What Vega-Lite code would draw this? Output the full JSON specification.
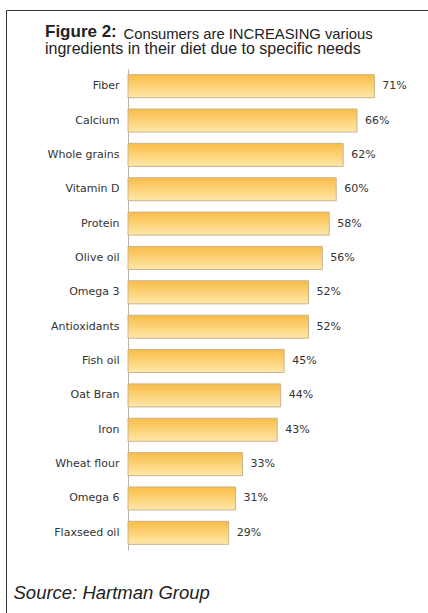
{
  "$schema": "https://vega.github.io/schema/vega-lite/v6.json",
  "width": 430,
  "height": 608,
  "padding": {"left": 6, "top": 10, "right": 0, "bottom": 0},
  "autosize": {"type": "pad"},
  "background": "white",
  "title": {
    "text": "Figure 2:",
    "subtitle": "ingredients in their diet due to specific needs",
    "anchor": "start",
    "frame": "group",
    "orient": "top",
    "offset": -48,
    "dx": 39,
    "baseline": "top",
    "font": "Liberation Sans",
    "fontSize": 17,
    "fontWeight": "bold",
    "color": "#222",
    "subtitleFont": "Liberation Sans",
    "subtitleFontSize": 16,
    "subtitleColor": "#222",
    "subtitlePadding": 0
  },
  "data": {
    "values": [
      {"item": "Fiber", "pct": 71},
      {"item": "Calcium", "pct": 66},
      {"item": "Whole grains", "pct": 62},
      {"item": "Vitamin D", "pct": 60},
      {"item": "Protein", "pct": 58},
      {"item": "Olive oil", "pct": 56},
      {"item": "Omega 3", "pct": 52},
      {"item": "Antioxidants", "pct": 52},
      {"item": "Fish oil", "pct": 45},
      {"item": "Oat Bran", "pct": 44},
      {"item": "Iron", "pct": 43},
      {"item": "Wheat flour", "pct": 33},
      {"item": "Omega 6", "pct": 31},
      {"item": "Flaxseed oil", "pct": 29}
    ]
  },
  "transform": [{"calculate": "datum.pct + '%'", "as": "label"}],
  "encoding": {
    "y": {
      "field": "item",
      "type": "nominal",
      "sort": null,
      "scale": {"range": [59, 540], "paddingInner": 0.33, "paddingOuter": 0.165},
      "axis": {
        "title": "Consumers are INCREASING various",
        "titleAngle": 0,
        "titleX": -5,
        "titleY": 28,
        "titleAlign": "left",
        "titleBaseline": "alphabetic",
        "titleFont": "Liberation Sans",
        "titleFontSize": 14.8,
        "titleFontWeight": "normal",
        "titleColor": "#222",
        "offset": -122,
        "ticks": false,
        "grid": false,
        "labelPadding": 9,
        "labelFont": "DejaVu Sans",
        "labelFontSize": 11,
        "labelColor": "#333",
        "domainColor": "#BDB3A6",
        "domainWidth": 1
      }
    },
    "x": {
      "field": "pct",
      "type": "quantitative",
      "scale": {"domain": [-35.16, 88.76], "nice": false},
      "axis": {
        "labels": false,
        "ticks": false,
        "domain": false,
        "grid": false,
        "title": "Source: Hartman Group",
        "titleX": 7,
        "titleY": -20,
        "titleAlign": "left",
        "titleBaseline": "alphabetic",
        "titleFont": "Liberation Sans",
        "titleFontSize": 18.5,
        "titleFontStyle": "italic",
        "titleFontWeight": "normal",
        "titleColor": "#222"
      }
    }
  },
  "layer": [
    {
      "mark": {
        "type": "bar",
        "color": {
          "gradient": "linear",
          "x1": 0, "y1": 0, "x2": 0, "y2": 1,
          "stops": [
            {"offset": 0, "color": "#F9BC45"},
            {"offset": 1, "color": "#FFE8AA"}
          ]
        },
        "stroke": "#C8B48C",
        "strokeWidth": 1
      }
    },
    {
      "mark": {
        "type": "text",
        "align": "left",
        "baseline": "middle",
        "dx": 8,
        "font": "DejaVu Sans",
        "fontSize": 11,
        "color": "#333"
      },
      "encoding": {"text": {"field": "label"}}
    }
  ],
  "config": {"view": {"stroke": "#333", "strokeWidth": 1}}
}
